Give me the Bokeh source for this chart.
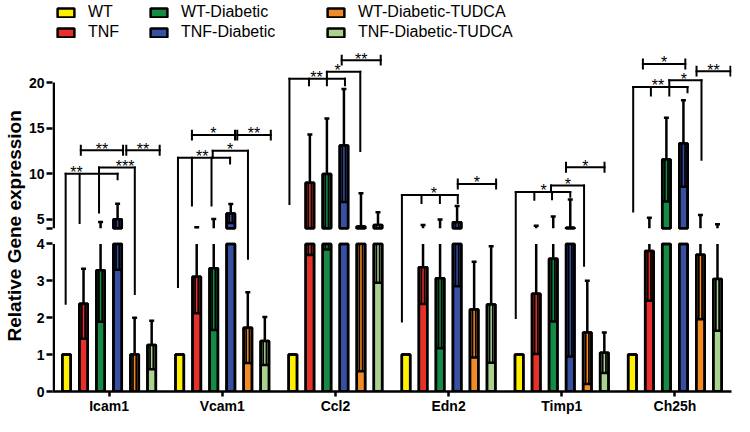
from bokeh.plotting import figure
from bokeh.models import Range1d, FixedTicker, Legend, LegendItem, ColumnDataSource, Title
from bokeh.embed import file_html
from bokeh.resources import INLINE
from bokeh.core.properties import value

# ---------------- data ----------------
genes = ["Icam1", "Vcam1", "Ccl2", "Edn2", "Timp1", "Ch25h"]
series = ["WT", "TNF", "WT-Diabetic", "TNF-Diabetic", "WT-Diabetic-TUDCA", "TNF-Diabetic-TUDCA"]
colors = ["#FFF000", "#E5312A", "#148C46", "#3750A2", "#F28A26", "#A8D28E"]

wt_mean = [1, 1, 1, 1, 1, 1]
wt_err = [0, 0, 0, 0, 0, 0]
tnf_mean = [2.38, 3.11, 9.0, 3.37, 2.65, 3.81]
tnf_err = [0.95, 0.99, 5.3, 1.0, 1.63, 1.35]
wtd_mean = [3.29, 3.34, 9.95, 3.07, 3.6, 11.55]
wtd_err = [1.40, 1.67, 6.1, 1.9, 1.7, 4.6]
tnfd_mean = [5.0, 5.63, 13.1, 4.65, 4.05, 13.3]
tnfd_err = [1.7, 1.05, 6.2, 1.8, 3.1, 4.75]
wtdt_mean = [1.0, 1.73, 4.2, 2.22, 1.6, 3.71]
wtdt_err = [1.0, 0.96, 3.65, 1.3, 1.4, 1.75]
tnfdt_mean = [1.26, 1.37, 4.35, 2.36, 1.05, 3.05]
tnfdt_err = [0.66, 0.65, 1.4, 1.58, 0.55, 1.4]

means = [wt_mean, tnf_mean, wtd_mean, tnfd_mean, wtdt_mean, tnfdt_mean]
errs = [wt_err, tnf_err, wtd_err, tnfd_err, wtdt_err, tnfdt_err]

# significance brackets
# comb: (gene, leg slots, leg bottoms, height, label, label slot)
comb_brackets = [
    (0, [-0.05, 0.77, 1.91, 3.0], [2.38, 4.59, 5.74, 9.39], 10.0, "**", 0.58),
    (0, [1.91, 4.01], [10.0, 2.64], 10.67, "***", 3.44),
    (1, [-0.1, 0.72, 1.87, 2.96], [2.83, 6.5, 6.5, 11.11], 11.74, "**", 1.33),
    (1, [1.94, 4.01], [11.74, 3.6], 12.51, "*", 2.96),
    (2, [-0.2, 0.95, 2.0, 3.06], [6.68, 19.7, 19.7, 19.7], 20.43, "**", 1.39),
    (2, [2.0, 3.96], [20.43, 12.5], 21.19, "*", 2.63),
    (3, [-0.24, 0.91, 1.99, 3.04], [1.9, 6.78, 6.78, 6.78], 7.65, "*", 1.63),
    (4, [-0.2, 0.89, 1.93, 3.0], [1.99, 7.13, 7.2, 7.47], 7.99, "*", 1.44),
    (4, [1.87, 3.81], [7.99, 3.41], 8.69, "*", 2.86),
    (5, [0.05, 1.09, 2.17, 3.24], [5.84, 18.58, 18.58, 18.93], 19.52, "**", 1.51),
    (5, [2.17, 4.06], [19.52, 11.53], 20.25, "*", 3.02),
]
# span: (gene, start slot, end slot, height, label)
span_brackets = [
    (0, 0.84, 3.32, 12.57, "**"),
    (0, 3.51, 5.47, 12.57, "**"),
    (1, 0.72, 3.25, 14.24, "*"),
    (1, 3.38, 5.35, 14.24, "**"),
    (2, 2.87, 5.16, 22.47, "**"),
    (3, 3.04, 5.29, 8.86, "*"),
    (4, 2.75, 5.01, 10.7, "*"),
    (5, 0.62, 3.11, 22.05, "*"),
    (5, 3.77, 5.76, 21.26, "**"),
]

lower_ticks = [0, 1, 2, 3, 4]
upper_ticks = [5, 10, 15, 20]

# ---------------- broken-axis scale ----------------
BREAK = 4.0
GAP = 0.425
RATIO = 0.2468
T_UP = BREAK + GAP


def T(v):
    return v if v <= BREAK else BREAK + GAP + (v - BREAK) * RATIO


def split(a, b):
    if b <= BREAK:
        return [(T(a), T(b))]
    if a >= BREAK:
        return [(T_UP + (a - BREAK) * RATIO, T(b))]
    return [(T(a), BREAK), (T_UP, T(b))]


PITCH = 0.1505
BW = 0.074
CAP = 0.022
CAPH = 0.12
FONT = "Liberation Sans"
YTOP = 10.6


def sx(g, slot):
    return g + (slot - 2.5) * PITCH


p = figure(width=734, height=416, x_range=Range1d(-0.5, 5.5), y_range=Range1d(0, YTOP),
           output_backend="svg", toolbar_location=None,
           min_border_top=0, min_border_right=3, min_border_left=0, min_border_bottom=0)
p.outline_line_color = None
p.xgrid.visible = False
p.ygrid.visible = False
p.background_fill_color = "white"

fill_renderers = []
for s in range(6):
    bx, bb, bt = [], [], []
    ux0, uy0, uy1 = [], [], []
    cx0, cx1, cy = [], [], []
    lx0, ly0, ly1 = [], [], []
    kx0, kx1, ky = [], [], []
    for g in range(6):
        x = sx(g, s)
        m = means[s][g]
        e = errs[s][g]
        bx.append(x); bb.append(0); bt.append(T(min(m, BREAK)))
        if m > BREAK:
            bx.append(x); bb.append(T_UP); bt.append(T(m))
        if e > 0:
            for a, b in split(m, m + e):
                ux0.append(x); uy0.append(a); uy1.append(b)
            cx0.append(x - CAP); cx1.append(x + CAP); cy.append(T(m + e))
            lo = max(m - e, 0)
            for a, b in split(lo, m):
                lx0.append(x); ly0.append(a); ly1.append(b)
            kx0.append(x - BW / 2); kx1.append(x + BW / 2); ky.append(T(lo))
    bsrc = ColumnDataSource(dict(x=bx, bottom=bb, top=bt))
    r = p.vbar(x="x", bottom="bottom", top="top", width=BW, source=bsrc,
               fill_color=colors[s], line_color="black", line_width=2.5)
    fill_renderers.append(r)
    lsrc = ColumnDataSource(dict(x=lx0, y0=ly0, y1=ly1))
    p.segment(x0="x", x1="x", y0="y0", y1="y1", source=lsrc, line_color="black", line_width=5)
    p.segment(x0="x", x1="x", y0="y0", y1="y1", source=lsrc, line_color=colors[s], line_width=1.5)
    p.segment(x0=kx0, x1=kx1, y0=ky, y1=ky, line_color="black", line_width=2.5)
    p.vbar(x="x", bottom="bottom", top="top", width=BW, source=bsrc,
           fill_color=None, line_color="black", line_width=2.5)
    p.segment(x0=ux0, x1=ux0, y0=uy0, y1=uy1, line_color="black", line_width=2.5)
    p.segment(x0=cx0, x1=cx1, y0=cy, y1=cy, line_color="black", line_width=2.5)

# brackets
bx0, bx1, by0, by1 = [], [], [], []
tx, ty, tt = [], [], []
for g, legs, bottoms, h, lab, ls in comb_brackets:
    xs = [sx(g, l) for l in legs]
    bx0.append(min(xs)); bx1.append(max(xs)); by0.append(T(h)); by1.append(T(h))
    for xl, bot in zip(xs, bottoms):
        bx0.append(xl); bx1.append(xl); by0.append(T(bot)); by1.append(T(h))
    tx.append(sx(g, ls)); ty.append(T(h)); tt.append(lab)
for g, s0, s1, h, lab in span_brackets:
    x0, x1 = sx(g, s0), sx(g, s1)
    bx0.append(x0); bx1.append(x1); by0.append(T(h)); by1.append(T(h))
    for xe in (x0, x1):
        bx0.append(xe); bx1.append(xe); by0.append(T(h) - CAPH); by1.append(T(h) + CAPH)
    tx.append((x0 + x1) / 2); ty.append(T(h)); tt.append(lab)
p.segment(x0=bx0, x1=bx1, y0=by0, y1=by1, line_color="black", line_width=2, line_cap="square")
p.text(x=tx, y=[v + 0.03 for v in ty], text=tt, text_align="center", text_baseline="alphabetic",
       text_font=value(FONT), text_font_size="16px", text_color="black")

# broken y axis line
ax = -0.5 + 0.011
p.segment(x0=[ax, ax], x1=[ax, ax], y0=[T(lower_ticks[0]), T_UP],
          y1=[T(lower_ticks[-1]), T(upper_ticks[-1])], line_color="black", line_width=2.5)

# y axis ticks
yt = [float(T(v)) for v in lower_ticks] + [T_UP] + [float(T(v)) for v in upper_ticks]
ylabels = {float(T(v)): str(v) for v in lower_ticks}
ylabels[T_UP] = ""
for v in upper_ticks:
    ylabels[float(T(v))] = str(v)
p.yaxis.ticker = FixedTicker(ticks=yt)
p.yaxis.major_label_overrides = ylabels
p.yaxis.axis_label = None
p.yaxis.axis_line_color = None
p.yaxis.major_tick_line_width = 2.5
p.yaxis.major_tick_out = 6
p.yaxis.major_tick_in = 0
p.yaxis.minor_tick_line_color = None
p.yaxis.major_label_text_font = FONT
p.yaxis.major_label_text_font_style = "bold"
p.yaxis.major_label_text_font_size = "14px"
p.yaxis.major_label_text_color = "black"
p.yaxis.major_label_standoff = 2

ytitle = Title(text="Relative Gene expression", align="left", offset=50, standoff=2,
               text_font=FONT, text_font_style="bold", text_font_size="19px", text_color="black")
p.add_layout(ytitle, "left")

p.xaxis.ticker = FixedTicker(ticks=list(range(len(genes))))
p.xaxis.major_label_overrides = {i: gname for i, gname in enumerate(genes)}
p.xaxis.axis_label = None
p.xaxis.axis_line_width = 2.5
p.xaxis.axis_line_color = "black"
p.xaxis.major_tick_line_width = 2.5
p.xaxis.major_tick_out = 5
p.xaxis.major_tick_in = 0
p.xaxis.minor_tick_line_color = None
p.xaxis.major_label_text_font = FONT
p.xaxis.major_label_text_font_style = "bold"
p.xaxis.major_label_text_font_size = "14px"
p.xaxis.major_label_text_color = "black"
p.xaxis.major_label_standoff = 1
p.xaxis.axis_label_standoff = 0

# legends: three columns at the top of the plot area
leg_x = [3, 96, 273]
for k in range(3):
    items = [LegendItem(label=series[2 * k], renderers=[fill_renderers[2 * k]]),
             LegendItem(label=series[2 * k + 1], renderers=[fill_renderers[2 * k + 1]])]
    lg = Legend(items=items, location=(leg_x[k], 350), orientation="vertical",
                glyph_width=21, glyph_height=11, label_standoff=12, spacing=2,
                padding=0, margin=0, border_line_color=None, background_fill_alpha=0,
                label_text_font=FONT, label_text_font_size="16px", label_text_color="black")
    p.add_layout(lg)

open("out.html", "w").write(file_html(p, INLINE))
